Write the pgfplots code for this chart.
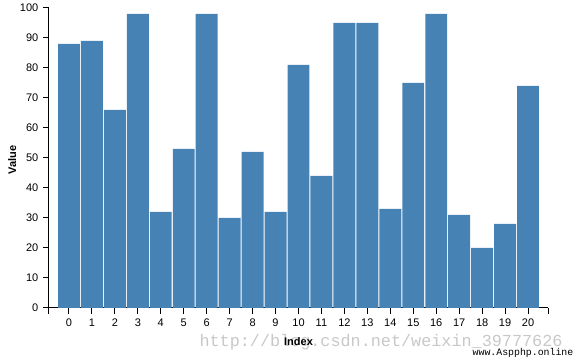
\documentclass[border=0pt]{standalone}
\usepackage{fontspec}
\setmainfont{Liberation Sans}
\newfontfamily\monofont{Liberation Mono}
\usepackage{pgfplots}
\pgfplotsset{compat=1.18}
\definecolor{steelblue}{HTML}{4682B4}
\definecolor{wm}{HTML}{C8C8C8}
\begin{document}
\begin{tikzpicture}
\useasboundingbox (-36.75pt,-38.25pt) rectangle (393.75pt,231pt);
\node[text=wm, font=\monofont\fontsize{12.6}{14}\selectfont, anchor=center] at (249pt,-25.5pt) {http://blog.csdn.net/weixin\_39777626};
\begin{axis}[
  at={(0,0)}, anchor=south west,
  scale only axis, width=374.25pt, height=225pt,
  xmin=-0.87, xmax=20.87, ymin=0, ymax=100,
  axis lines*=left,
  axis line style={black, line width=0.75pt},
  xtick={0,...,20}, ytick={0,10,...,100},
  tick align=outside, major tick length=4.5pt,
  tick style={black, line width=0.75pt},
  extra x ticks={-0.87,20.87}, extra x tick labels={},
  extra x tick style={tick style={black, line width=0.75pt}},
  /pgf/number format/assume math mode=true,
  tick label style={font=\fontsize{8.25}{10}\selectfont},
  xlabel={\bfseries Index}, ylabel={\bfseries Value},
  label style={font=\fontsize{8.25}{10}\selectfont},
  xlabel style={at={(axis description cs:0.5,-0.113)}, anchor=center},
  ylabel style={at={(axis description cs:-0.074,0.493)}, anchor=center},
  clip=false,
]
\addplot[ybar, fill=steelblue, draw=none, bar width=0.955] coordinates {
(0,88) (1,89) (2,66) (3,98) (4,32) (5,53) (6,98) (7,30) (8,52) (9,32) (10,81)
(11,44) (12,95) (13,95) (14,33) (15,75) (16,98) (17,31) (18,20) (19,28) (20,74)
};
\end{axis}
\node[text=black, font=\monofont\fontsize{7.4}{9}\selectfont, anchor=center] at (355.5pt,-33.5pt) {www.Aspphp.online};
\end{tikzpicture}
\end{document}
